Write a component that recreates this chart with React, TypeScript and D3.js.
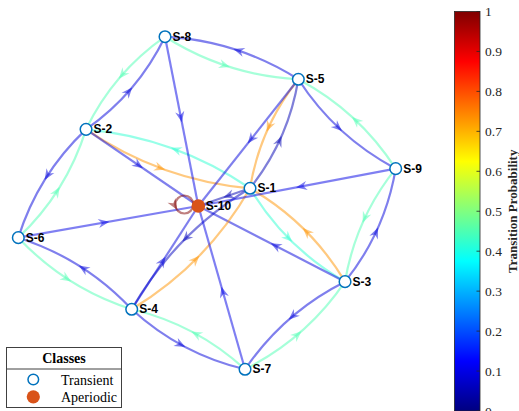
import React from 'react';
import * as d3 from 'd3';

// Markov chain states and their graph layout coordinates
const stateNames = ['S-1', 'S-2', 'S-3', 'S-4', 'S-5', 'S-6', 'S-7', 'S-8', 'S-9', 'S-10'];
const layoutX = [0.456, -1.282, 1.463, -0.798, 0.968, -2.0, 0.403, -0.445, 2.0, -0.092];
const layoutY = [0.177, 0.886, -0.946, -1.278, 1.488, -0.417, -2.0, 2.0, 0.413, -0.036];
const stateClass = [0, 0, 0, 0, 0, 0, 0, 0, 0, 1];
const classNames = ['Transient', 'Aperiodic'];

// Transitions (1-based state indices) and their probabilities
const edgeSource = [1, 1, 1, 1, 1, 2, 2, 2, 2, 3, 3, 3, 3, 4, 4, 4, 4, 5, 5, 5, 5, 6, 6, 6, 7, 7, 7, 8, 8, 8, 9, 9, 9, 10];
const edgeTarget = [2, 3, 4, 5, 10, 1, 6, 8, 10, 1, 7, 9, 10, 1, 6, 7, 10, 1, 8, 9, 10, 2, 4, 10, 3, 4, 10, 2, 5, 10, 3, 5, 10, 10];
const edgeProb = [
  0.42, 0.42, 0.06, 0.05, 0.05,
  0.73, 0.09, 0.09, 0.09,
  0.73, 0.09, 0.09, 0.09,
  0.73, 0.09, 0.09, 0.09,
  0.73, 0.09, 0.09, 0.09,
  0.45, 0.45, 0.1,
  0.45, 0.45, 0.1,
  0.45, 0.45, 0.1,
  0.45, 0.45, 0.1,
  1.0,
];

const colorbarTicks = [0, 0.1, 0.2, 0.3, 0.4, 0.5, 0.6, 0.7, 0.8, 0.9, 1];

function jet(v: number): string {
  const c = (x: number) => Math.max(0, Math.min(1, x));
  const r = c(1.5 - Math.abs(4 * v - 3));
  const g = c(1.5 - Math.abs(4 * v - 2));
  const b = c(1.5 - Math.abs(4 * v - 1));
  return d3.rgb(r * 255, g * 255, b * 255).formatHex();
}

const W = 519;
const H = 411;
const EDGE_ALPHA = 0.5;
const BLUE_NODE = '#0072BD';
const ORANGE_NODE = '#D95319';
const SANS = "'Liberation Sans', Arial, Helvetica, sans-serif";
const SERIF = "'Liberation Serif', 'Times New Roman', Times, serif";

const xScale = d3.scaleLinear().domain([-2, 2]).range([18.3, 395.7]);
const yScale = d3.scaleLinear().domain([-2, 2]).range([369.3, 36.7]);
const cbarScale = d3.scaleLinear().domain([0, 1]).range([411, 11.5]);

function arrowPath(x: number, y: number, angle: number): string {
  const pts: [number, number][] = [[1, 0], [-10, -4.6], [-6.5, 0], [-10, 4.6]];
  const ca = Math.cos(angle);
  const sa = Math.sin(angle);
  const p = pts.map(([px, py]) => [x + px * ca - py * sa, y + px * sa + py * ca]);
  return `M${p[0][0]},${p[0][1]}L${p[1][0]},${p[1][1]}L${p[2][0]},${p[2][1]}L${p[3][0]},${p[3][1]}Z`;
}

export default function App() {
  const nodes = stateNames.map((name, i) => ({
    name,
    x: xScale(layoutX[i]),
    y: yScale(layoutY[i]),
    cls: stateClass[i],
  }));

  const pairKey = (a: number, b: number) => `${a}-${b}`;
  const edgeSet = new Set(edgeSource.map((s, i) => pairKey(s, edgeTarget[i])));

  const edges = edgeSource.map((s, i) => {
    const t = edgeTarget[i];
    const color = jet(edgeProb[i]);
    const a = nodes[s - 1];
    const b = nodes[t - 1];
    if (s === t) {
      // self-loop drawn on the left of the node
      const cx = a.x - 14;
      const cy = a.y - 1.5;
      const r = 9;
      const th = (150 * Math.PI) / 180;
      const ax = cx + r * Math.cos(th);
      const ay = cy + r * Math.sin(th);
      const ang = Math.atan2(-Math.cos(th), Math.sin(th));
      return {
        key: `e${i}`,
        d: `M${cx + r},${cy}A${r},${r} 0 1 1 ${cx - r},${cy}A${r},${r} 0 1 1 ${cx + r},${cy}`,
        arrow: arrowPath(ax, ay, ang),
        color,
      };
    }
    const dx = b.x - a.x;
    const dy = b.y - a.y;
    const L = Math.hypot(dx, dy);
    const ang = Math.atan2(dy, dx);
    if (edgeSet.has(pairKey(t, s))) {
      const k = 0.13 * L;
      const px = -dy / L;
      const py = dx / L;
      const cx = (a.x + b.x) / 2 + px * k;
      const cy = (a.y + b.y) / 2 + py * k;
      const mx = 0.25 * a.x + 0.5 * cx + 0.25 * b.x;
      const my = 0.25 * a.y + 0.5 * cy + 0.25 * b.y;
      return {
        key: `e${i}`,
        d: `M${a.x},${a.y}Q${cx},${cy} ${b.x},${b.y}`,
        arrow: arrowPath(mx, my, ang),
        color,
      };
    }
    const mx = (a.x + b.x) / 2;
    const my = (a.y + b.y) / 2;
    return {
      key: `e${i}`,
      d: `M${a.x},${a.y}L${b.x},${b.y}`,
      arrow: arrowPath(mx, my, ang),
      color,
    };
  });

  const gradStops = d3.range(0, 1.0001, 1 / 32).map((v) => ({ offset: v, color: jet(v) }));
  const barX = 454.5;
  const barW = 25.5;

  return (
    <svg width={W} height={H} style={{ position: 'absolute', left: 0, top: 0, background: '#fff' }}>
      <defs>
        <linearGradient id="jetGrad" x1="0" y1="1" x2="0" y2="0">
          {gradStops.map((s) => (
            <stop key={s.offset} offset={s.offset} stopColor={s.color} />
          ))}
        </linearGradient>
      </defs>
      <rect x={0} y={0} width={W} height={H} fill="#fff" />

      {/* transitions */}
      <g fill="none">
        {edges.map((e) => (
          <path key={e.key} d={e.d} stroke={e.color} strokeWidth={2.2} strokeOpacity={EDGE_ALPHA} />
        ))}
      </g>
      <g>
        {edges.map((e) => (
          <path key={e.key + 'a'} d={e.arrow} fill={e.color} fillOpacity={EDGE_ALPHA} stroke="none" />
        ))}
      </g>

      {/* states */}
      <g>
        {nodes.map((n) =>
          n.cls === 0 ? (
            <circle key={n.name} cx={n.x} cy={n.y} r={5.8} fill="#fff" stroke={BLUE_NODE} strokeWidth={1.5} />
          ) : (
            <circle key={n.name} cx={n.x} cy={n.y} r={6.8} fill={ORANGE_NODE} />
          )
        )}
      </g>
      <g fontFamily={SANS} fontWeight="bold" fontSize={12} fill="#000">
        {nodes.map((n) => (
          <text key={n.name + 't'} x={n.x + 7.5} y={n.y} dominantBaseline="central">
            {n.name}
          </text>
        ))}
      </g>

      {/* legend */}
      <g>
        <rect x={6.5} y={347.5} width={115} height={60} fill="#fff" stroke="#404040" strokeWidth={1} />
        <line x1={6.5} x2={121.5} y1={369} y2={369} stroke="#404040" strokeWidth={1} />
        <text x={64} y={363} textAnchor="middle" fontFamily={SERIF} fontWeight="bold" fontSize={14} fill="#000">
          Classes
        </text>
        <circle cx={33.3} cy={379.5} r={5.3} fill="#fff" stroke={BLUE_NODE} strokeWidth={1.5} />
        <circle cx={33.3} cy={396.8} r={6.6} fill={ORANGE_NODE} />
        <text x={61} y={384.5} fontFamily={SERIF} fontSize={14} fill="#000">
          {classNames[0]}
        </text>
        <text x={61} y={401.5} fontFamily={SERIF} fontSize={14} fill="#000">
          {classNames[1]}
        </text>
      </g>

      {/* colorbar */}
      <g>
        <rect x={barX} y={cbarScale(1)} width={barW} height={cbarScale(0) - cbarScale(1)} fill="url(#jetGrad)" stroke="#262626" strokeWidth={0.8} />
        {colorbarTicks.map((t) => (
          <g key={t}>
            <line x1={barX + barW - 3.5} x2={barX + barW} y1={cbarScale(t)} y2={cbarScale(t)} stroke="#262626" strokeWidth={0.8} />
            <text x={485} y={cbarScale(t)} dominantBaseline="central" fontFamily={SERIF} fontSize={13.5} fill="#262626">
              {String(t)}
            </text>
          </g>
        ))}
        <text
          transform={`translate(512.5, ${cbarScale(0.5)}) rotate(-90)`}
          textAnchor="middle"
          dominantBaseline="central"
          fontFamily={SERIF}
          fontWeight="bold"
          fontSize={13}
          fill="#262626"
        >
          Transition Probability
        </text>
      </g>
    </svg>
  );
}
